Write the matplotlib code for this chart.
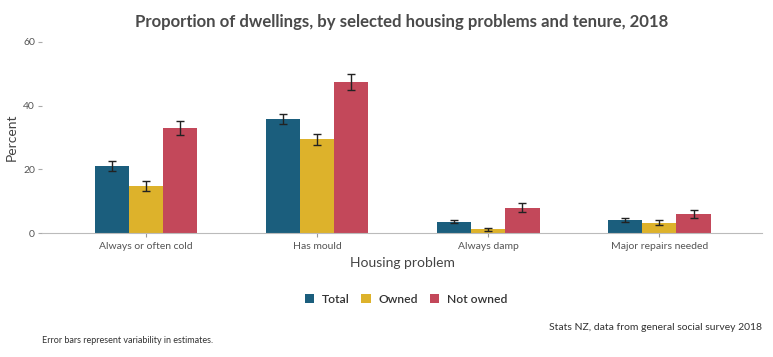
import matplotlib
matplotlib.use('Agg')
import matplotlib.pyplot as plt
import numpy as np

plt.rcParams['font.family'] = ['Lato', 'DejaVu Sans']

problems = ['Always or often cold', 'Has mould', 'Always damp', 'Major repairs needed']
series = ['Total', 'Owned', 'Not owned']
total = [21.0, 35.8, 3.5, 4.2]
owned = [14.8, 29.4, 1.2, 3.2]
not_owned = [32.9, 47.4, 8.0, 6.0]
total_err = [1.5, 1.5, 0.5, 0.6]
owned_err = [1.5, 1.8, 0.5, 0.8]
not_owned_err = [2.2, 2.5, 1.4, 1.2]
colors = ['#1b5e7d', '#ddb22b', '#c3485a']

fig = plt.figure(figsize=(7.73, 3.57), dpi=100)
ax = fig.add_axes([0.0543, 0.3473, 0.9315, 0.5351])

x = np.arange(len(problems))
w = 0.2
for i, (vals, errs, c, name) in enumerate(zip([total, owned, not_owned],
                                               [total_err, owned_err, not_owned_err],
                                               colors, series)):
    ax.bar(x + (i - 1) * w, vals, w, color=c, label=name, zorder=2)
    ax.errorbar(x + (i - 1) * w, vals, yerr=errs, fmt='none', ecolor='#222222',
                elinewidth=1, capsize=3, capthick=1, zorder=3)

ax.set_xlim(-0.608, 3.60)
ax.set_ylim(0, 60)
ax.set_yticks([0, 20, 40, 60])
ax.set_xticks(x)
ax.set_xticklabels(problems)
ax.tick_params(axis='both', labelsize=7.5, colors='#555555', length=3, width=0.8)
ax.tick_params(axis='y', pad=2, color='#aaaaaa')
ax.tick_params(axis='x', color='#999999')
for s in ['top', 'right', 'left']:
    ax.spines[s].set_visible(False)
ax.spines['bottom'].set_color('#bbbbbb')
ax.set_ylabel('Percent', fontsize=10, color='#444444')
ax.yaxis.set_label_coords(-0.033, 0.5)
ax.set_xlabel('Housing problem', fontsize=10, color='#444444', labelpad=4)

fig.text(0.52, 0.938, 'Proportion of dwellings, by selected housing problems and tenure, 2018',
         ha='center', va='center', fontsize=12.1, fontweight='bold', color='#4a4a4a')

leg = fig.legend(loc='center', bbox_to_anchor=(0.525, 0.162), ncol=3, frameon=False,
                 fontsize=8.7, handlelength=0.8, handleheight=0.8, columnspacing=1.0,
                 handletextpad=0.6)
for t in leg.get_texts():
    t.set_fontweight('semibold')
    t.set_color('#333333')

fig.text(0.986, 0.084, 'Stats NZ, data from general social survey 2018', ha='right',
         va='center', fontsize=7.5, color='#333333')
fig.text(0.054, 0.045, 'Error bars represent variability in estimates.', ha='left',
         va='center', fontsize=6.5, color='#333333')

fig.savefig('out.png', dpi=100)
